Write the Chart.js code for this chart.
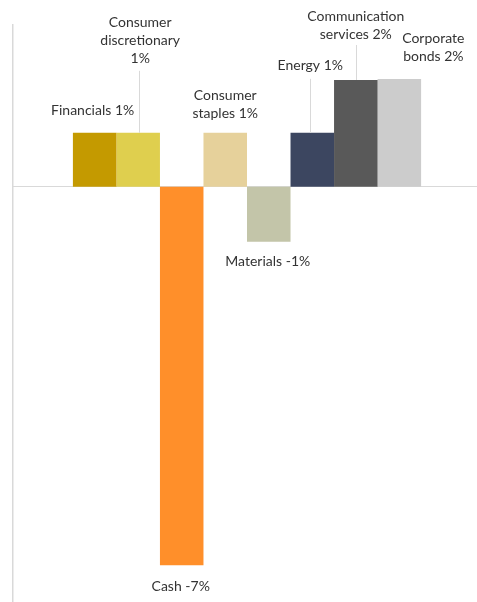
<!DOCTYPE html>
<html>
<head>
<meta charset="utf-8">
<script src="https://cdn.jsdelivr.net/npm/chart.js@4"></script>
<style>
    html, body { margin: 0; padding: 0; background: #fff; overflow: hidden; }
    #wrap { width: 481px; height: 602px; }
</style>
</head>
<body>
<div id="wrap"><canvas id="chart"></canvas></div>
<script>
// sectors, one bar each (all in a single group like the original)
const categories = ["Financials", "Consumer discretionary", "Cash", "Consumer staples",
    "Materials", "Energy", "Communication services", "Corporate bonds"];
const values = [1.0, 1.0, -7.02, 1.0, -1.02, 1.0, 1.98, 2.0]; // percent
const labelLines = [
    ["Financials 1%"],
    ["Consumer", "discretionary", "1%"],
    ["Cash -7%"],
    ["Consumer", "staples 1%"],
    ["Materials -1%"],
    ["Energy 1%"],
    ["Communication", "services 2%"],
    ["Corporate", "bonds 2%"]
];

const colors = ["#C49A00", "#DFCF4E", "#FF8F2A", "#E6D19B", "#C3C5A9", "#3C4660", "#595959", "#CCCCCC"];

// where each label sits relative to the end of its bar
const labelOffsets = [
    { dx: -2, dy: -22 },
    { dx: 2, dy: -74, lx: 1, leader: -62 },
    { dx: -1, dy: 21 },
    { dx: 0, dy: -19 },
    { dx: -1, dy: 20 },
    { dx: -2, dy: -67, lx: -2, leader: -54 },
    { dx: 0, dy: -46, lx: 0, leader: -35 },
    { dx: 34, dy: -22 }
];

const barLabels = {
    id: "barLabels",
    afterDatasetsDraw(chart, args, opts) {
        const ctx = chart.ctx;
        ctx.save();
        ctx.font = opts.font;
        ctx.textAlign = "center";
        ctx.textBaseline = "middle";
        chart.data.datasets.forEach((ds, i) => {
            const bar = chart.getDatasetMeta(i).data[0];
            const o = labelOffsets[i];
            const lines = labelLines[i];
            if (o.leader !== undefined) {
                const lx = Math.round(bar.x + o.lx) + 0.5;
                ctx.strokeStyle = opts.leaderColor;
                ctx.lineWidth = 1;
                ctx.beginPath();
                ctx.moveTo(lx, bar.y + o.leader);
                ctx.lineTo(lx, bar.y);
                ctx.stroke();
            }
            ctx.fillStyle = opts.color;
            const lastY = bar.y + o.dy;
            lines.forEach((t, k) => {
                ctx.fillText(t, bar.x + o.dx, lastY - (lines.length - 1 - k) * opts.lineHeight);
            });
        });
        ctx.restore();
    }
};

const ctx = document.getElementById("chart").getContext("2d");
new Chart(ctx, {
    type: "bar",
    data: {
        labels: [""],
        datasets: categories.map((c, i) => ({
            label: c,
            data: [values[i]],
            backgroundColor: colors[i],
            categoryPercentage: 0.744,
            barPercentage: 1
        }))
    },
    options: {
        responsive: true,
        maintainAspectRatio: false,
        animation: false,
        layout: { padding: { left: 13, top: 25, right: 0, bottom: 0 } },
        plugins: {
            legend: { display: false },
            tooltip: { enabled: false },
            barLabels: {
                font: "14px Lato",
                color: "#333333",
                lineHeight: 18,
                leaderColor: "#D9D9D9"
            }
        },
        scales: {
            x: {
                position: { y: 0 },
                grid: { display: false, drawTicks: false },
                ticks: { display: false },
                border: { color: "#D9D9D9", width: 1 }
            },
            y: {
                min: -7.7,
                max: 3,
                grid: { display: false, drawTicks: false },
                ticks: { display: false },
                border: { color: "#D9D9D9", width: 1.5 }
            }
        }
    },
    plugins: [barLabels]
});
</script>
</body>
</html>
